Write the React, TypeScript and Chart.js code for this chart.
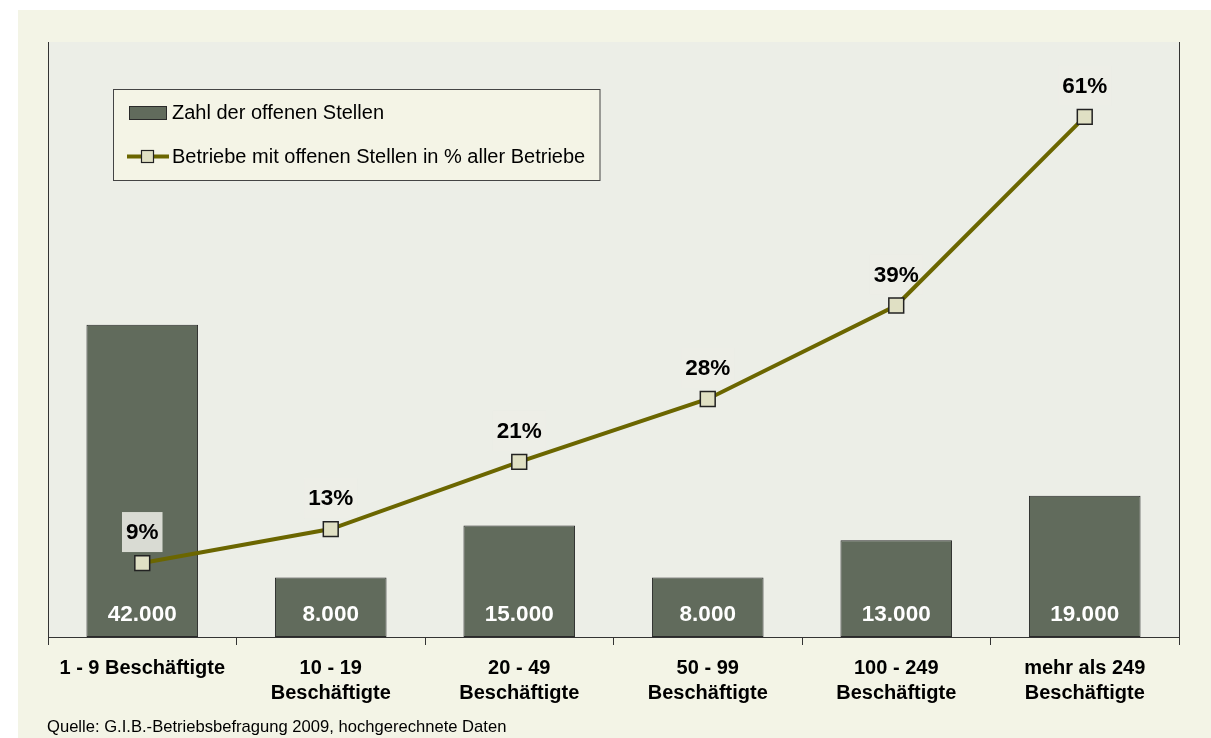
import React, { useEffect, useRef } from "react";
import { Chart, registerables } from "chart.js";

Chart.register(...registerables);

const categories: (string | string[])[] = [
  "1 - 9 Beschäftigte",
  ["10 - 19", "Beschäftigte"],
  ["20 - 49", "Beschäftigte"],
  ["50 - 99", "Beschäftigte"],
  ["100 - 249", "Beschäftigte"],
  ["mehr als 249", "Beschäftigte"],
];
const openPositions = [42000, 8000, 15000, 8000, 13000, 19000];
const sharePercent = [8.7, 12.7, 20.6, 28, 39, 61.2];
const barLabel = "Zahl der offenen Stellen";
const lineLabel = "Betriebe mit offenen Stellen in % aller Betriebe";
const sourceNote = "Quelle: G.I.B.-Betriebsbefragung 2009, hochgerechnete Daten";

const FONT = '"Liberation Sans", Arial, Helvetica, sans-serif';
const PLOT_BG = "#eceee7";
const BAR_COLOR = "#616b5c";
const BAR_BORDER = "#2a2a2a";
const LINE_COLOR = "#6b6600";
const MARKER_FILL = "#e0e0c4";
const MARKER_BORDER = "#222222";

function fmtThousands(v: number): string {
  return String(v).replace(/\B(?=(\d{3})+(?!\d))/g, ".");
}

const backgroundPlugin = {
  id: "bgPlugin",
  beforeDraw(chart: any) {
    const { ctx, chartArea: a, width, height } = chart;
    ctx.save();
    ctx.fillStyle = "#ffffff";
    ctx.fillRect(0, 0, width, height);
    ctx.fillStyle = "#f3f4e6";
    ctx.fillRect(18, 10, width - 18, height - 10);
    ctx.fillStyle = PLOT_BG;
    ctx.fillRect(a.left, a.top, a.right - a.left, a.bottom - a.top);
    ctx.restore();
  },
};

const labelsPlugin = {
  id: "labelsPlugin",
  afterDatasetDraw(chart: any, args: any) {
    if (args.index !== 0) return;
    // label boxes for percentage labels, drawn above bars but below the line
    const { ctx } = chart;
    const meta = chart.getDatasetMeta(1);
    ctx.save();
    ctx.font = `bold 22.5px ${FONT}`;
    meta.data.forEach((pt: any, i: number) => {
      const txt = Math.round(sharePercent[i]) + "%";
      const w = ctx.measureText(txt).width + 8;
      const h = 40;
      const cy = pt.y - 31;
      ctx.fillStyle = "rgba(236,238,231,0.86)";
      ctx.fillRect(pt.x - w / 2, cy - h / 2, w, h);
    });
    ctx.restore();
  },
  afterDatasetsDraw(chart: any) {
    const { ctx } = chart;
    ctx.save();
    ctx.textAlign = "center";
    ctx.textBaseline = "middle";
    ctx.font = `bold 22.5px ${FONT}`;
    const lineMeta = chart.getDatasetMeta(1);
    lineMeta.data.forEach((pt: any, i: number) => {
      ctx.fillStyle = "#000000";
      ctx.fillText(Math.round(sharePercent[i]) + "%", pt.x, pt.y - 30);
    });
    const barMeta = chart.getDatasetMeta(0);
    const base = chart.scales.y.bottom;
    barMeta.data.forEach((bar: any, i: number) => {
      ctx.fillStyle = "#ffffff";
      ctx.fillText(fmtThousands(openPositions[i]), bar.x, base - 22);
    });
    ctx.restore();
  },
  afterDraw(chart: any) {
    const { ctx } = chart;
    ctx.save();
    // legend box
    const bx = 113.5, by = 89.5, bw = 486.5, bh = 91;
    ctx.fillStyle = "#f4f4e6";
    ctx.fillRect(bx, by, bw, bh);
    ctx.strokeStyle = "#444444";
    ctx.lineWidth = 1;
    ctx.strokeRect(bx, by, bw, bh);
    // bar swatch
    ctx.fillStyle = BAR_COLOR;
    ctx.fillRect(129.5, 106.5, 37, 13);
    ctx.strokeStyle = BAR_BORDER;
    ctx.strokeRect(129.5, 106.5, 37, 13);
    // line swatch
    ctx.strokeStyle = LINE_COLOR;
    ctx.lineWidth = 4;
    ctx.beginPath();
    ctx.moveTo(127, 156.5);
    ctx.lineTo(169, 156.5);
    ctx.stroke();
    ctx.fillStyle = MARKER_FILL;
    ctx.fillRect(141.5, 150.5, 12, 12);
    ctx.strokeStyle = MARKER_BORDER;
    ctx.lineWidth = 1.2;
    ctx.strokeRect(141.5, 150.5, 12, 12);
    // legend text
    ctx.fillStyle = "#000000";
    ctx.font = `20px ${FONT}`;
    ctx.textAlign = "left";
    ctx.textBaseline = "middle";
    ctx.fillText(barLabel, 172, 113);
    ctx.fillText(lineLabel, 172, 157);
    // source note
    ctx.font = `16.6px ${FONT}`;
    ctx.fillText(sourceNote, 47, 727);
    ctx.restore();
  },
};

export default function App() {
  const canvasRef = useRef<HTMLCanvasElement | null>(null);

  useEffect(() => {
    const canvas = canvasRef.current;
    if (!canvas) return;
    const chart = new Chart(canvas, {
      type: "bar",
      data: {
        labels: categories,
        datasets: [
          {
            type: "bar",
            label: barLabel,
            data: openPositions,
            backgroundColor: BAR_COLOR,
            borderColor: BAR_BORDER,
            borderWidth: 1,
            borderSkipped: false,
            yAxisID: "y",
            order: 2,
            barPercentage: 0.592,
            categoryPercentage: 1,
          } as any,
          {
            type: "line",
            label: lineLabel,
            data: sharePercent,
            borderColor: LINE_COLOR,
            borderWidth: 4,
            pointStyle: "rect",
            pointRadius: 10.5,
            pointHoverRadius: 10.5,
            pointBackgroundColor: MARKER_FILL,
            pointBorderColor: MARKER_BORDER,
            pointBorderWidth: 1.5,
            yAxisID: "y1",
            order: 1,
            tension: 0,
          } as any,
        ],
      },
      options: {
        responsive: false,
        animation: false,
        events: [],
        layout: { padding: { left: 48, right: 32, top: 42, bottom: 0 } },
        plugins: {
          legend: { display: false },
          tooltip: { enabled: false },
        },
        scales: {
          x: {
            offset: true,
            grid: {
              display: true,
              drawOnChartArea: false,
              drawTicks: true,
              tickLength: 8,
              color: "#333333",
              lineWidth: 1,
              offset: true,
            },
            border: { display: true, color: "#333333", width: 1 },
            ticks: {
              color: "#000000",
              font: { family: FONT, size: 20, weight: "bold", lineHeight: 1.25 },
              padding: 11,
              maxRotation: 0,
              autoSkip: false,
            },
            afterFit: (s: any) => {
              s.height = 101;
            },
          },
          y: {
            position: "left",
            min: 0,
            max: 80000,
            ticks: { display: false },
            grid: { display: false, drawTicks: false },
            border: { display: true, color: "#333333", width: 1 },
            afterFit: (s: any) => {
              s.width = 0;
            },
          },
          y1: {
            position: "right",
            min: 0,
            max: 70,
            ticks: { display: false },
            grid: { display: false, drawTicks: false },
            border: { display: true, color: "#333333", width: 1 },
            afterFit: (s: any) => {
              s.width = 0;
            },
          },
        },
      } as any,
      plugins: [backgroundPlugin, labelsPlugin],
    });
    return () => chart.destroy();
  }, []);

  return (
    <div
      style={{
        position: "fixed",
        left: 0,
        top: 0,
        width: 1211,
        height: 738,
        background: "#ffffff",
      }}
    >
      <canvas ref={canvasRef} width={1211} height={738} style={{ display: "block" }} />
    </div>
  );
}
